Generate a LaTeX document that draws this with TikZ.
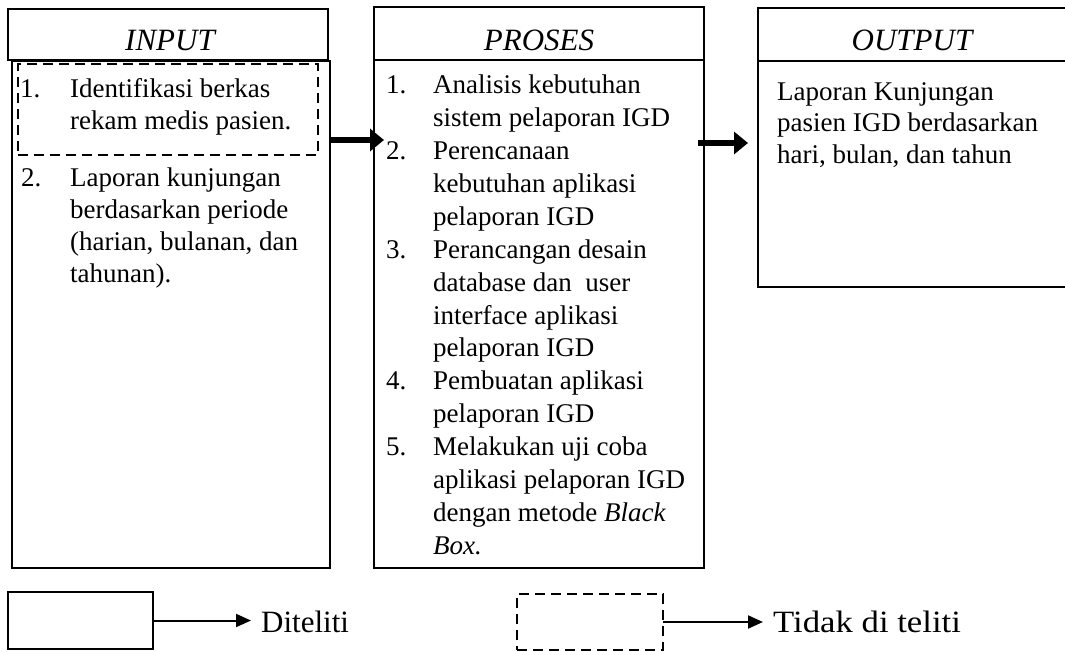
\documentclass[tikz,border=0pt]{standalone}
\usepackage{fontspec}
\setmainfont{Liberation Serif}
\usetikzlibrary{arrows.meta}
\newcommand{\mylines}[1]{\begin{tabular}[t]{@{}l@{}}#1\end{tabular}}
\tikzset{
  box/.style={draw, line width=1.3pt, inner sep=0pt, outer sep=0pt, anchor=north west},
  dbox/.style={draw, line width=2pt, dash pattern=on 10pt off 6pt, inner sep=0pt, outer sep=0pt, anchor=north west},
  head/.style={font=\fontsize{31}{35}\selectfont\itshape, inner sep=0pt, anchor=base},
  txt/.style={font=\fontsize{27}{32.93}\selectfont, inner sep=0pt, anchor=base west},
  num/.style={font=\fontsize{27}{32.93}\selectfont, inner sep=0pt, anchor=base west},
  bigarrow/.style={line width=6pt, -{Triangle[length=14pt,width=22pt]}},
  legarrow/.style={line width=2pt, -{Triangle[length=15pt,width=13pt]}},
  legtxt/.style={font=\fontsize{31}{36}\selectfont, inner sep=0pt, anchor=base west}
}
\begin{document}
\begin{tikzpicture}[x=1pt,y=-1pt]
\useasboundingbox (0,0) rectangle (1065,651);
% INPUT
\node[box, minimum width=320pt, minimum height=51pt] (inhead) at (8,9) {};
\node[box, minimum width=318pt, minimum height=507pt] (inbody) at (12,61) {};
\node[head] (intitle) at (170,50) {INPUT};
\node[dbox, minimum width=300pt, minimum height=91pt] (indash) at (18,64) {};
\node[num] (in1n) at (20,97) {1.};
\node[txt] (in1t) at (70,97) {\mylines{Identifikasi berkas\\rekam medis pasien.}};
\node[num] (in2n) at (21,186) {2.};
\node[txt, font=\fontsize{27}{32}\selectfont] (in2t) at (70,186) {\mylines{Laporan kunjungan\\berdasarkan periode\\(harian, bulanan, dan\\tahunan).}};
% PROSES
\node[box, minimum width=330pt, minimum height=53pt] (prhead) at (374,7) {};
\node[box, minimum width=330pt, minimum height=508pt] (prbody) at (374,60) {};
\node[head] (prtitle) at (539,50) {PROSES};
\node[num] (pr1n) at (386,93.5) {1.};
\node[txt] (pr1t) at (433,93.5) {\mylines{Analisis kebutuhan\\sistem pelaporan IGD}};
\node[num] (pr2n) at (386,159.4) {2.};
\node[txt] (pr2t) at (433,159.4) {\mylines{Perencanaan\\kebutuhan aplikasi\\pelaporan IGD}};
\node[num] (pr3n) at (386,258.2) {3.};
\node[txt] (pr3t) at (433,258.2) {\mylines{Perancangan desain\\database dan\ \ user\\interface aplikasi\\pelaporan IGD}};
\node[num] (pr4n) at (386,389.9) {4.};
\node[txt] (pr4t) at (433,389.9) {\mylines{Pembuatan aplikasi\\pelaporan IGD}};
\node[num] (pr5n) at (386,455.7) {5.};
\node[txt] (pr5t) at (433,455.7) {\mylines{Melakukan uji coba\\aplikasi pelaporan IGD\\dengan metode \textit{Black}\\\textit{Box.}}};
% OUTPUT
\node[box, minimum width=320pt, minimum height=53pt] (outhead) at (758,8) {};
\node[box, line width=2pt, minimum width=320pt, minimum height=226pt] (outbody) at (758,61) {};
\node[head] (outtitle) at (912,50) {OUTPUT};
\node[txt, font=\fontsize{27}{31.5}\selectfont] (outt) at (777,100) {\mylines{Laporan Kunjungan\\pasien IGD berdasarkan\\hari, bulan, dan tahun}};
% arrows
\coordinate (a1s) at (330,140);
\coordinate (a1e) at (384,140);
\coordinate (a2s) at (698,143);
\coordinate (a2e) at (748,143);
\draw[bigarrow] (a1s) -- (a1e);
\draw[bigarrow] (a2s) -- (a2e);
% legend
\node[box, line width=2.2pt, minimum width=145pt, minimum height=57pt] (legsolid) at (8,592) {};
\node[legtxt] (legt1) at (261,632) {Diteliti};
\coordinate (l1e) at (251,620.5);
\draw[legarrow] (legsolid.east) -- (l1e);
\node[dbox, minimum width=146pt, minimum height=56pt] (legdash) at (517,594) {};
\node[legtxt] (legt2) at (773,632) {\scalebox{1.12}[1]{Tidak di teliti}};
\coordinate (l2e) at (763,622);
\draw[legarrow] (legdash.east) -- (l2e);
\end{tikzpicture}
\end{document}
